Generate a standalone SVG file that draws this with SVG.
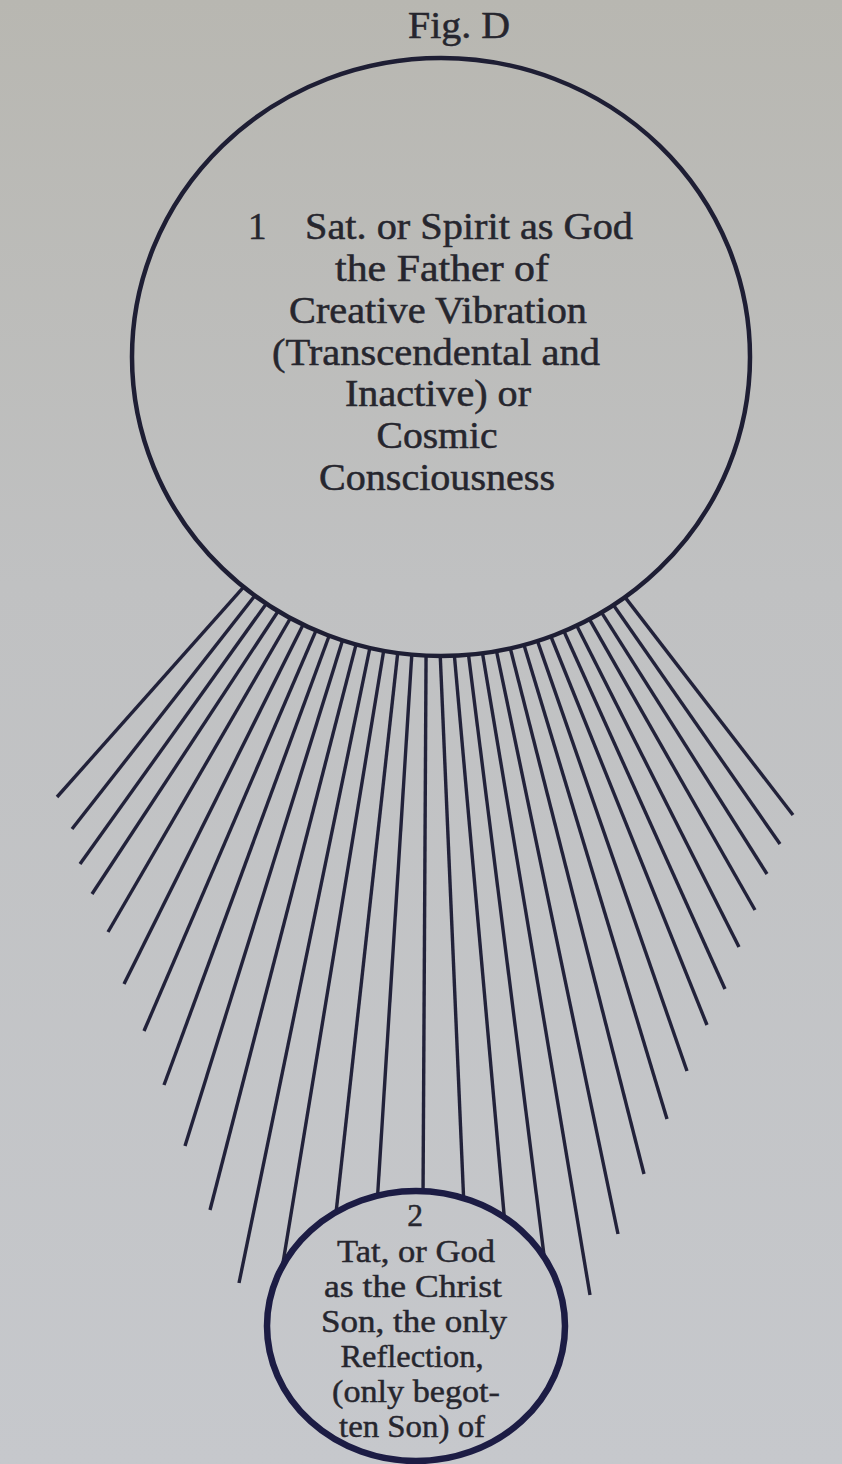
<svg xmlns="http://www.w3.org/2000/svg" width="842" height="1464" viewBox="0 0 842 1464">
  <defs>
    <linearGradient id="paper" gradientUnits="userSpaceOnUse" x1="0" y1="0" x2="0" y2="1464">
      <stop offset="0" stop-color="#b8b7b1"/>
      <stop offset="0.4" stop-color="#c0c1c2"/>
      <stop offset="1" stop-color="#c6c8cc"/>
    </linearGradient>
    <style>
      .ray { stroke: #22223a; stroke-width: 3.4; stroke-linecap: butt; fill: none; }
      .big { fill: url(#paper); stroke: #1e1e34; stroke-width: 4.5; }
      .small { fill: url(#paper); stroke: #1c1c44; stroke-width: 6.5; }
      .t1 { font-family: "Liberation Serif", "Times New Roman", serif; font-size: 37px; fill: #26262e; stroke: #26262e; stroke-width: 0.5; text-anchor: middle; }
      .t2 { font-family: "Liberation Serif", "Times New Roman", serif; font-size: 31.5px; fill: #26262e; stroke: #26262e; stroke-width: 0.45; text-anchor: middle; }
    </style>
  </defs>

  <rect x="0" y="0" width="842" height="1464" fill="url(#paper)"/>

  <text id="title" x="459" y="38" class="t1" textLength="102" lengthAdjust="spacingAndGlyphs">Fig. D</text>

  <g id="connectors">
    <line class="ray" x1="249.1" y1="580.9" x2="57" y2="797"/>
    <line class="ray" x1="259.9" y1="589.2" x2="72" y2="829"/>
    <line class="ray" x1="271.1" y1="596.9" x2="80" y2="864"/>
    <line class="ray" x1="282.7" y1="604.2" x2="92" y2="894"/>
    <line class="ray" x1="294.6" y1="611.0" x2="108" y2="932"/>
    <line class="ray" x1="306.8" y1="617.2" x2="124" y2="984"/>
    <line class="ray" x1="319.3" y1="622.9" x2="144" y2="1031"/>
    <line class="ray" x1="332.0" y1="628.0" x2="164" y2="1085"/>
    <line class="ray" x1="345.0" y1="632.6" x2="185" y2="1146"/>
    <line class="ray" x1="358.1" y1="636.6" x2="210" y2="1210"/>
    <line class="ray" x1="371.5" y1="640.0" x2="239" y2="1283"/>
    <line class="ray" x1="385.0" y1="642.8" x2="281" y2="1275"/>
    <line class="ray" x1="398.6" y1="645.0" x2="335" y2="1222"/>
    <line class="ray" x1="412.3" y1="646.6" x2="377" y2="1205"/>
    <line class="ray" x1="426.1" y1="647.6" x2="423" y2="1200"/>
    <line class="ray" x1="439.9" y1="648.0" x2="464" y2="1207"/>
    <line class="ray" x1="453.7" y1="647.8" x2="505" y2="1225"/>
    <line class="ray" x1="467.5" y1="647.0" x2="545" y2="1263"/>
    <line class="ray" x1="481.2" y1="645.5" x2="590" y2="1295"/>
    <line class="ray" x1="494.9" y1="643.5" x2="618" y2="1234"/>
    <line class="ray" x1="508.4" y1="640.9" x2="644" y2="1174"/>
    <line class="ray" x1="521.8" y1="637.7" x2="667" y2="1119"/>
    <line class="ray" x1="535.0" y1="633.9" x2="687" y2="1071"/>
    <line class="ray" x1="548.1" y1="629.5" x2="707" y2="1025"/>
    <line class="ray" x1="560.9" y1="624.5" x2="725" y2="989"/>
    <line class="ray" x1="573.4" y1="619.0" x2="739" y2="947"/>
    <line class="ray" x1="585.8" y1="612.9" x2="755" y2="910"/>
    <line class="ray" x1="597.7" y1="606.3" x2="767" y2="874"/>
    <line class="ray" x1="609.4" y1="599.2" x2="780" y2="844"/>
    <line class="ray" x1="620.7" y1="591.6" x2="793" y2="815"/>
  </g>

  <g id="node-sat">
    <ellipse class="big" cx="441" cy="357" rx="309" ry="299"/>
    <text x="248" y="239" class="t1" style="text-anchor:start">1</text>
    <text x="469" y="239" class="t1" textLength="328" lengthAdjust="spacingAndGlyphs">Sat. or Spirit as God</text>
    <text x="442" y="281" class="t1" textLength="214" lengthAdjust="spacingAndGlyphs">the  Father of</text>
    <text x="438" y="323" class="t1" textLength="298" lengthAdjust="spacingAndGlyphs">Creative Vibration</text>
    <text x="436" y="365" class="t1" textLength="328" lengthAdjust="spacingAndGlyphs">(Transcendental and</text>
    <text x="438" y="406" class="t1" textLength="186" lengthAdjust="spacingAndGlyphs">Inactive) or</text>
    <text x="437" y="448" class="t1" textLength="121" lengthAdjust="spacingAndGlyphs">Cosmic</text>
    <text x="437" y="490" class="t1" textLength="236" lengthAdjust="spacingAndGlyphs">Consciousness</text>
  </g>

  <g id="node-tat">
    <ellipse class="small" cx="416" cy="1326" rx="149" ry="135"/>
    <text x="415" y="1226" class="t2">2</text>
    <text x="416" y="1262" class="t2" textLength="158" lengthAdjust="spacingAndGlyphs">Tat, or God</text>
    <text x="413" y="1297" class="t2" textLength="178" lengthAdjust="spacingAndGlyphs">as the Christ</text>
    <text x="414" y="1332" class="t2" textLength="186" lengthAdjust="spacingAndGlyphs">Son, the only</text>
    <text x="412" y="1367" class="t2" textLength="143" lengthAdjust="spacingAndGlyphs">Reflection,</text>
    <text x="416" y="1402" class="t2" textLength="168" lengthAdjust="spacingAndGlyphs">(only begot-</text>
    <text x="412" y="1437" class="t2" textLength="146" lengthAdjust="spacingAndGlyphs">ten Son) of</text>
  </g>
</svg>
